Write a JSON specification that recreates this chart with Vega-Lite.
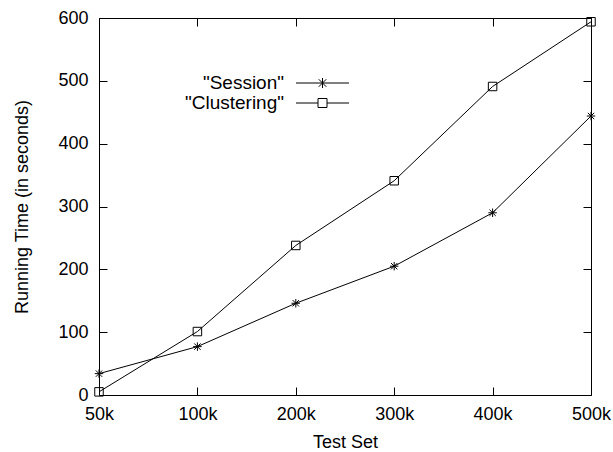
{
  "$schema": "https://vega.github.io/schema/vega-lite/v6.json",
  "width": 492,
  "height": 377,
  "autosize": "none",
  "padding": {"left": 99, "top": 18, "right": 22, "bottom": 57},
  "background": "white",
  "config": {
    "font": "Liberation Sans",
    "view": {"stroke": "black", "strokeWidth": 1},
    "axis": {
      "grid": false,
      "domain": false,
      "tickColor": "black",
      "tickSize": -8,
      "tickWidth": 1,
      "labelColor": "black",
      "labelFontSize": 18,
      "titleColor": "black",
      "titleFontSize": 18,
      "titleFontWeight": "normal"
    }
  },
  "data": {
    "values": [
      {"set": "50k", "series": "Session", "time": 34},
      {"set": "100k", "series": "Session", "time": 77},
      {"set": "200k", "series": "Session", "time": 146},
      {"set": "300k", "series": "Session", "time": 205},
      {"set": "400k", "series": "Session", "time": 290},
      {"set": "500k", "series": "Session", "time": 444},
      {"set": "50k", "series": "Clustering", "time": 5},
      {"set": "100k", "series": "Clustering", "time": 101},
      {"set": "200k", "series": "Clustering", "time": 238},
      {"set": "300k", "series": "Clustering", "time": 341},
      {"set": "400k", "series": "Clustering", "time": 491},
      {"set": "500k", "series": "Clustering", "time": 594}
    ]
  },
  "layer": [
    {
      "mark": {"type": "line", "color": "black", "strokeWidth": 1},
      "encoding": {
        "x": {
          "field": "set", "type": "ordinal",
          "sort": ["50k", "100k", "200k", "300k", "400k", "500k"],
          "scale": {"type": "point", "padding": 0},
          "axis": {"orient": "top", "labels": false, "title": null}
        },
        "y": {
          "field": "time", "type": "quantitative",
          "scale": {"domain": [0, 600], "nice": false},
          "axis": {"orient": "right", "labels": false, "title": null, "values": [0, 100, 200, 300, 400, 500, 600]}
        },
        "detail": {"field": "series"}
      }
    },
    {
      "mark": {
        "type": "point", "filled": false, "color": "black", "size": 72, "strokeWidth": 1, "opacity": 1,
        "shape": {"expr": "datum.series === 'Session' ? 'M-1,0L1,0M0,-1L0,1M-0.75,-0.75L0.75,0.75M-0.75,0.75L0.75,-0.75' : 'M-1,-1L1,-1L1,1L-1,1Z'"}
      },
      "encoding": {
        "x": {
          "field": "set", "type": "ordinal",
          "sort": ["50k", "100k", "200k", "300k", "400k", "500k"],
          "scale": {"type": "point", "padding": 0},
          "axis": {"orient": "bottom", "labelAngle": 0, "labelPadding": 18, "title": "Test Set", "titleBaseline": "alphabetic", "titleY": 52}
        },
        "y": {
          "field": "time", "type": "quantitative",
          "scale": {"domain": [0, 600], "nice": false},
          "axis": {"orient": "left", "labelPadding": 19, "values": [0, 100, 200, 300, 400, 500, 600], "title": "Running Time (in seconds)", "titleX": -68}
        }
      }
    },
    {
      "mark": {"type": "point", "filled": false, "color": "black", "size": 72, "strokeWidth": 1, "opacity": 0},
      "encoding": {
        "x": {
          "field": "set", "type": "ordinal",
          "sort": ["50k", "100k", "200k", "300k", "400k", "500k"],
          "scale": {"type": "point", "padding": 0},
          "axis": null
        },
        "y": {
          "field": "time", "type": "quantitative",
          "scale": {"domain": [0, 600], "nice": false},
          "axis": null
        },
        "shape": {
          "field": "series", "type": "nominal",
          "scale": {
            "domain": ["Session", "Clustering"],
            "range": [
              "M-5.3,0L5.3,0M0,-1L0,1M-0.75,-0.75L0.75,0.75M-0.75,0.75L0.75,-0.75",
              "M-5.3,0L-0.9,0M0.9,0L5.3,0M-0.9,-0.9L0.9,-0.9L0.9,0.9L-0.9,0.9Z"
            ]
          },
          "legend": {
            "orient": "none",
            "legendX": 214,
            "legendY": 55.5,
            "title": null,
            "padding": 0,
            "rowPadding": -2,
            "labelAlign": "right",
            "labelOffset": -48,
            "labelFontSize": 19,
            "labelColor": "black",
            "labelExpr": "'\"' + datum.label + '\"'",
            "symbolSize": 100,
            "symbolOpacity": 1,
            "symbolStrokeWidth": 1,
            "symbolStrokeColor": "black",
            "symbolFillColor": "transparent"
          }
        }
      }
    }
  ],
  "resolve": {"axis": {"x": "independent", "y": "independent"}}
}
